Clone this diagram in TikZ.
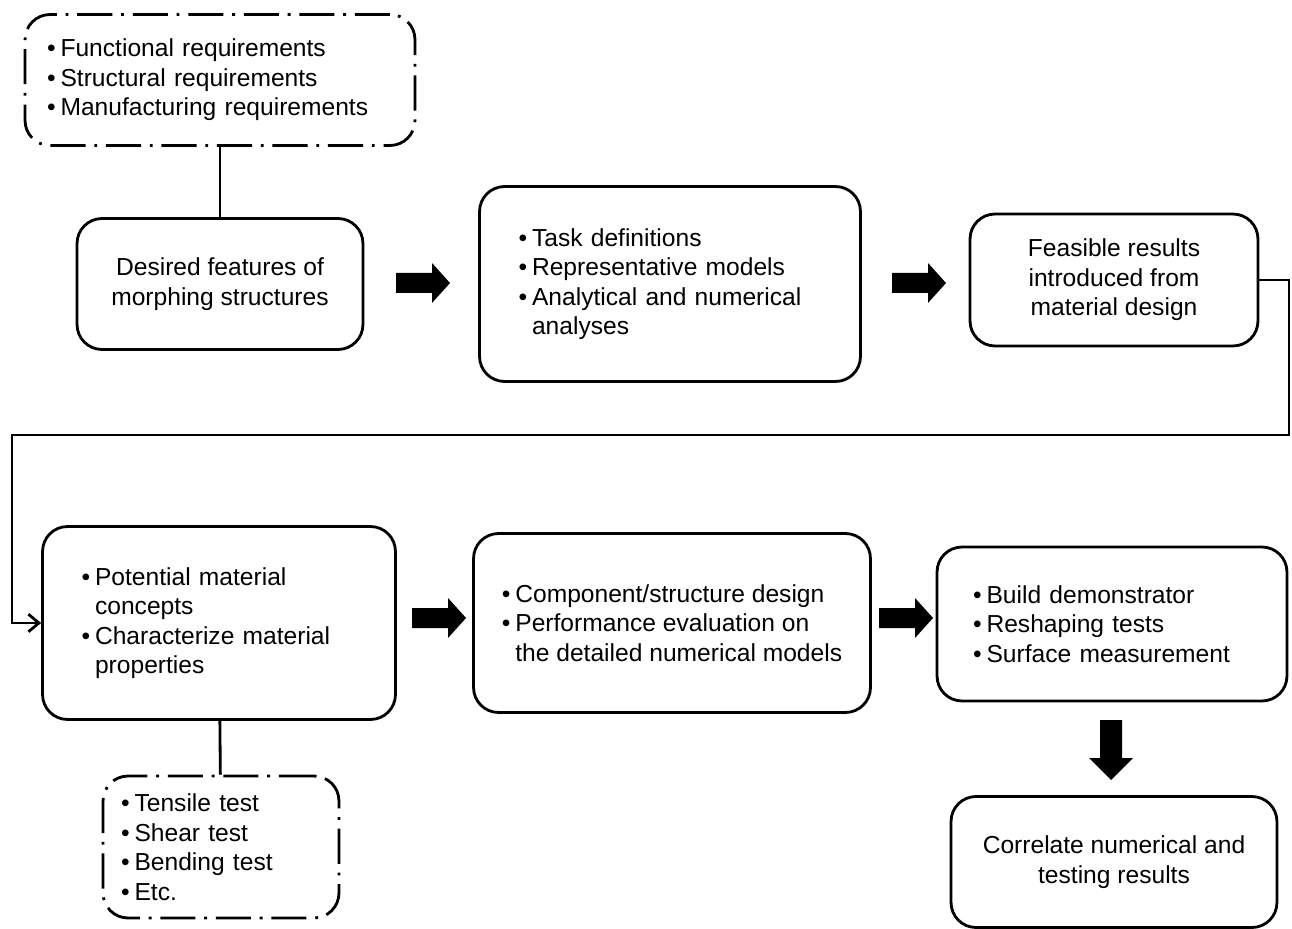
\documentclass[tikz,border=0pt]{standalone}
\usepackage{fontspec}
\setmainfont{Liberation Sans}
\usepackage{tikz}
\usetikzlibrary{arrows.meta}

% Aufzaehlungspunkt und Einzug
\newcommand{\itm}{\makebox[0.55em][l]{•}}
\newcommand{\ind}{\hspace*{0.55em}}

\begin{document}
\begin{tikzpicture}[x=0.02cm,y=-0.02cm,
    font=\fontsize{14pt}{16.8pt}\selectfont,
    box/.style={draw, line width=1.6pt, rounded corners=0.5cm, align=center, inner sep=0pt},
    dashbox/.style={box, dash pattern=on 20pt off 5pt on 1.6pt off 5pt},
    list/.style={align=left, inner ysep=0pt, inner xsep=#1},
    link/.style={line width=1.6pt}]
  \useasboundingbox (0,0) rectangle (1292,929);

  % Obere Reihe
  \node[dashbox, list=0.44cm, text width=6.92cm, minimum width=7.8cm, minimum height=2.62cm] (req) at (220,80)
    {\itm Functional requirements\\ \itm Structural requirements\\ \itm Manufacturing requirements};
  \node[box, minimum width=5.72cm, minimum height=2.62cm] (feat) at (220,284)
    {Desired features of\\ morphing structures};
  \node[box, list=0.78cm, text width=6.06cm, minimum width=7.62cm, minimum height=3.9cm] (task) at (670,284)
    {\itm Task definitions\\ \itm Representative models\\ \itm Analytical and numerical\\ \ind analyses};
  \node[box, minimum width=5.76cm, minimum height=2.64cm] (feas) at (1114,280)
    {Feasible results\\ introduced from\\ material design};

  % Untere Reihe
  \node[box, list=0.78cm, text width=5.5cm, minimum width=7.06cm, minimum height=3.86cm] (pot) at (219,623)
    {\itm Potential material\\ \ind concepts\\ \itm Characterize material\\ \ind properties};
  \node[box, align=left, minimum width=7.94cm, minimum height=3.58cm] (comp) at (672,623)
    {\itm Component/structure design\\ \itm Performance evaluation on\\ \ind the detailed numerical models};
  \node[box, list=0.72cm, text width=5.56cm, minimum width=7.0cm, minimum height=3.08cm] (build) at (1112,624)
    {\itm Build demonstrator\\ \itm Reshaping tests\\ \itm Surface measurement};
  \node[box, minimum width=6.52cm, minimum height=2.62cm] (corr) at (1114,862)
    {Correlate numerical and\\ testing results};
  \node[dashbox, list=0.36cm, text width=4.0cm, minimum width=4.72cm, minimum height=2.84cm] (tests) at (221,847)
    {\itm Tensile test\\ \itm Shear test\\ \itm Bending test\\ \itm Etc.};

  % Verbindungen
  \draw[link] (req) -- (feat);
  \draw[link] (pot) -- (tests);
  \coordinate (turnR) at (1289,435);
  \coordinate (turnL) at (12,435);
  \draw[link, -{Straight Barb[length=6pt,width=10pt]}] (feas.east) -| (turnR) -- (turnL) |- (pot.west);

  % Blockpfeile
  \foreach \x/\y in {396/283, 892/283, 412/618, 879/618}{
    \fill (\x,\y) ++(0,-10) -- ++(36,0) -- ++(0,-10) -- ++(18,20) -- ++(-18,20) -- ++(0,-10) -- ++(-36,0) -- cycle;
  }
  \fill (1111,720) ++(-11,0) -- ++(0,38) -- ++(-11,0) -- ++(22,22) -- ++(22,-22) -- ++(-11,0) -- ++(0,-38) -- cycle;

\end{tikzpicture}
\end{document}
